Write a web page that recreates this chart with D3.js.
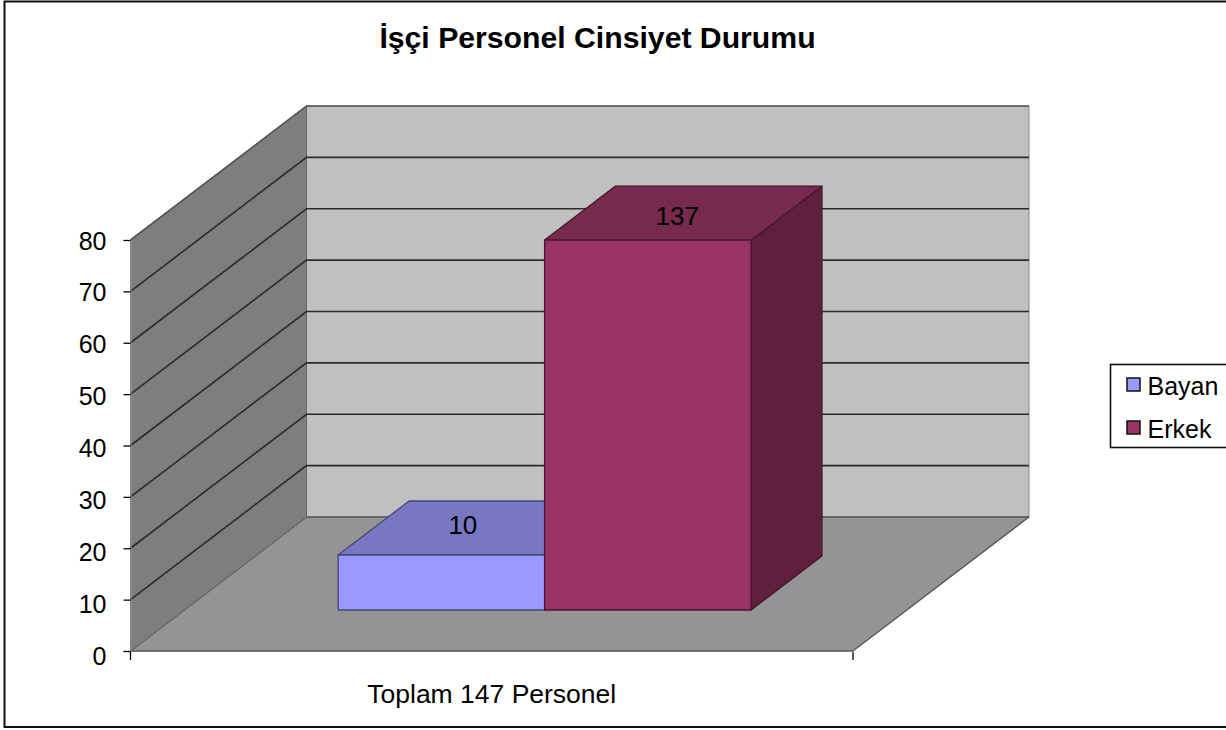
<!DOCTYPE html>
<html>
<head>
<meta charset="utf-8">
<title>İşçi Personel Cinsiyet Durumu</title>
<script src="https://cdn.jsdelivr.net/npm/d3@7"></script>
<style>
  html, body { margin: 0; padding: 0; background: #fff; }
  svg { display: block; }
  text { font-family: "Liberation Sans", Arial, sans-serif; fill: #000; }
</style>
</head>
<body>
<svg id="chart" width="1226" height="730"></svg>
<script>
(function () {
  'use strict';

  var title = 'İşçi Personel Cinsiyet Durumu';
  var categories = ['Toplam 147 Personel'];
  var seriesNames = ['Bayan', 'Erkek'];
  var dataLabels = [10, 137];
  // height of each column as read against the axis (the 137 column stops short of 80)
  var columnHeights = [10.7, 72];
  var yTicks = [0, 10, 20, 30, 40, 50, 60, 70, 80];

  var faceColors = {
    Bayan: { front: '#9999ff', top: '#7777c2' },
    Erkek: { front: '#993366', top: '#77294e', side: '#5f1f3d' }
  };
  // labels are not quite centred on the column tops
  var labelShift = { Bayan: [-14, -3.5], Erkek: [-6, 3] };

  var width = 1226, height = 730;
  var left = 130.5, right = 853, bottom = 651, top = 240;
  // offset of the back wall from the front edge of the box
  var depthX = 176, depthY = 134;
  // columns sit between these two fractions of the box depth
  var barDepth = [0.306, 0.709];

  var svg = d3.select('#chart');

  var y = d3.scaleLinear().domain([0, 80]).range([bottom, top]);
  var xCat = d3.scaleBand().domain(categories).range([left, right]);
  var xSeries = d3.scaleBand().domain(seriesNames).range([left - 1, right - 1])
    .paddingInner(0).paddingOuter(0.75);

  // x,y on the front plane pushed back by depth fraction d
  function project(px, py, d) {
    return [px + d * depthX, py - d * depthY];
  }

  function poly(parent, pts, fill, stroke, sw) {
    return parent.append('polygon')
      .attr('points', pts.map(function (p) { return p.join(','); }).join(' '))
      .attr('fill', fill)
      .attr('stroke', stroke || 'none')
      .attr('stroke-width', sw || 0)
      .attr('stroke-linejoin', 'round');
  }

  // Chart frame
  svg.append('rect').attr('width', width).attr('height', height).attr('fill', '#fff');
  svg.append('rect').attr('x', 4.5).attr('y', 1.5)
    .attr('width', width + 10).attr('height', 725.5)
    .attr('fill', 'none').attr('stroke', '#111').attr('stroke-width', 2);

  // Title
  svg.append('text').attr('x', 597.5).attr('y', 48)
    .attr('text-anchor', 'middle')
    .style('font-size', '30.2px').style('font-weight', 'bold')
    .text(title);

  // Box: back wall, floor, side wall
  var box = svg.append('g');
  poly(box, [project(left, y(0), 1), project(right, y(0), 1), project(right, y(80), 1), project(left, y(80), 1)],
    '#c0c0c0', '#8a8a8a', 1);
  poly(box, [project(left, y(0), 0), project(right, y(0), 0), project(right, y(0), 1), project(left, y(0), 1)],
    '#949494', '#555', 1.3);
  poly(box, [project(left, y(0), 0), project(left, y(0), 1), project(left, y(80), 1), project(left, y(80), 0)],
    '#7e7e7e', '#666', 1);

  // Gridlines along the side and back walls
  var grid = svg.append('g').selectAll('.grid')
    .data(yTicks.slice(1)).enter().append('polyline')
    .attr('class', 'grid')
    .attr('fill', 'none')
    .attr('stroke', '#2b2b2b')
    .attr('stroke-width', 1.6)
    .attr('points', function (d) {
      return [project(left, y(d), 0), project(left, y(d), 1), project(right, y(d), 1)]
        .map(function (p) { return p.join(','); }).join(' ');
    });
  grid.filter(function (d) { return d === 80; }).attr('stroke', '#555');

  // Columns
  var bars = svg.append('g');
  seriesNames.forEach(function (name, i) {
    var x0 = xSeries(name), x1 = x0 + xSeries.bandwidth();
    var rise = y(0) - y(columnHeights[i]);
    var d0 = barDepth[0], d1 = barDepth[1];
    var base0 = y(0), top0 = base0 - rise;
    var c = faceColors[name];
    var edge = d3.color(c.front).darker(2.2).formatHex();

    if (c.side) {
      poly(bars, [project(x1, base0, d0), project(x1, base0, d1), project(x1, top0, d1), project(x1, top0, d0)],
        c.side, edge, 1.3);
    }
    poly(bars, [project(x0, top0, d0), project(x1, top0, d0), project(x1, top0, d1), project(x0, top0, d1)],
      c.top, edge, 1.3);
    poly(bars, [project(x0, base0, d0), project(x1, base0, d0), project(x1, top0, d0), project(x0, top0, d0)],
      c.front, edge, 1.3);

    var mid = project((x0 + x1) / 2, top0, (d0 + d1) / 2);
    bars.append('text')
      .attr('x', mid[0] + labelShift[name][0]).attr('y', mid[1] + labelShift[name][1])
      .attr('text-anchor', 'middle').attr('dy', '0.35em')
      .style('font-size', '26px')
      .text(dataLabels[i]);
  });

  // Value axis
  var yAxis = svg.append('g').attr('transform', 'translate(' + left + ',0)')
    .call(d3.axisLeft(y).tickValues(yTicks).tickSize(7).tickPadding(17));
  yAxis.select('.domain').attr('stroke', '#9a9a9a');
  yAxis.selectAll('.tick line').attr('stroke', '#000').attr('stroke-width', 1.3);
  yAxis.selectAll('text').style('font-size', '25px').style('font-family', null)
    .attr('dy', function (d) { return (9 + (80 - d) / 20) + 'px'; });
  yAxis.attr('font-family', null).attr('font-size', null);

  // Category axis: label only, plus the two end ticks
  var xAxis = svg.append('g').attr('transform', 'translate(0,' + bottom + ')')
    .call(d3.axisBottom(xCat).tickSize(0).tickPadding(33));
  xAxis.select('.domain').remove();
  xAxis.selectAll('text').style('font-size', '26.5px').style('font-family', null);
  xAxis.attr('font-family', null).attr('font-size', null);
  xAxis.selectAll('.end').data(xCat.range()).enter().append('line')
    .attr('class', 'end')
    .attr('x1', function (d) { return d; }).attr('x2', function (d) { return d; })
    .attr('y1', 1).attr('y2', 9)
    .attr('stroke', '#000').attr('stroke-width', 1.3);

  // Legend
  var legend = svg.append('g').attr('transform', 'translate(1110.5,364.5)');
  legend.append('rect')
    .attr('width', 130).attr('height', 83)
    .attr('fill', '#fff').attr('stroke', '#111').attr('stroke-width', 1.6);
  var rows = legend.selectAll('.row').data(seriesNames).enter().append('g')
    .attr('class', 'row')
    .attr('transform', function (d, i) { return 'translate(0,' + (20 + i * 43) + ')'; });
  rows.append('rect')
    .attr('x', 16.5).attr('y', -6.5).attr('width', 13).attr('height', 13)
    .attr('fill', function (d) { return faceColors[d].front; })
    .attr('stroke', '#111').attr('stroke-width', 1.5);
  rows.append('text')
    .attr('x', 37).attr('y', 1).attr('dy', '0.36em')
    .style('font-size', '25px')
    .text(function (d) { return d; });
})();
</script>
</body>
</html>
